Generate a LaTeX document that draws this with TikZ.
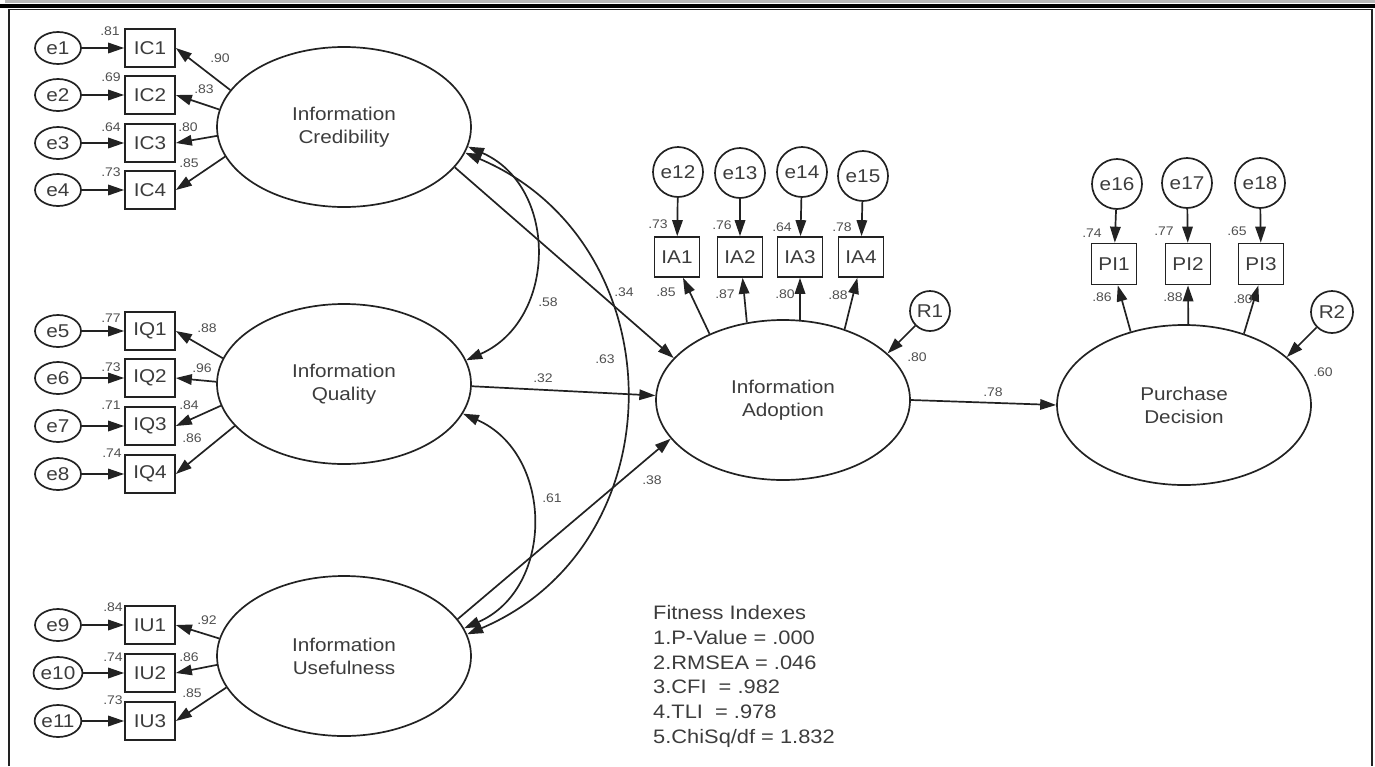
\documentclass[tikz,border=0pt]{standalone}
\usepackage{fontspec}
\setmainfont{Liberation Sans}[FakeStretch=1.12]
\usetikzlibrary{arrows.meta,shapes.geometric}
\definecolor{ink}{HTML}{222222}
\definecolor{txt}{HTML}{3C3C3C}
\definecolor{lbc}{HTML}{505050}
\begin{document}
\begin{tikzpicture}[x=1pt,y=-1pt,
  every node/.style={text=txt},
  lat/.style={draw=ink, line width=1.7pt, ellipse, minimum width=254pt, minimum height=160pt, inner sep=0pt, align=center, font=\fontsize{18.5}{23}\selectfont},
  ind/.style={draw=ink, line width=1.7pt, rectangle, minimum width=50pt, minimum height=38pt, inner sep=0pt, font=\fontsize{18.5}{20}\selectfont},
  indb/.style={ind, minimum width=45pt, minimum height=40pt},
  err/.style={draw=ink, line width=1.7pt, ellipse, minimum width=46pt, minimum height=32pt, inner sep=0pt, font=\fontsize{18.5}{20}\selectfont},
  errc/.style={draw=ink, line width=1.7pt, circle, minimum size=50pt, inner sep=0pt, font=\fontsize{18.5}{20}\selectfont},
  res/.style={errc, minimum size=40pt},
  arr/.style={draw=ink, line width=1.7pt, -{Triangle[length=16pt,width=10.5pt]}},
  cov/.style={draw=ink, line width=1.7pt, {Triangle[length=16pt,width=10.5pt]}-{Triangle[length=16pt,width=10.5pt]}},
  lbl/.style={font=\fontsize{12.5}{12.5}\selectfont, inner sep=0pt, text=lbc},
]
\useasboundingbox (0,0) rectangle (1375,766);
% frame
\fill[gray!55] (5,0) rectangle (1375,3);
\fill[black] (0,4) rectangle (1375,7.5);
\draw[ink, line width=1.2pt] (9,766) -- (9,9.5) -- (1372,9.5) -- (1372,766);

% latent variables
\node[lat] (IC) at (344,127) {Information\\Credibility};
\node[lat] (IQ) at (344,384) {Information\\Quality};
\node[lat] (IU) at (344,656) {Information\\Usefulness};
\node[lat] (IA) at (783,400) {Information\\Adoption};
\node[lat] (PD) at (1184,405) {Purchase\\Decision};

% left indicators
\foreach \n/\t/\y in {ic1/IC1/48, ic2/IC2/95, ic3/IC3/143, ic4/IC4/190,
                      iq1/IQ1/331, iq2/IQ2/378, iq3/IQ3/426, iq4/IQ4/474,
                      iu1/IU1/625, iu2/IU2/673, iu3/IU3/721}
  \node[ind] (\n) at (150,\y) {\t};
\foreach \n/\t/\y in {e1/e1/48, e2/e2/95, e3/e3/143, e4/e4/190,
                      e5/e5/331, e6/e6/378, e7/e7/426, e8/e8/474,
                      e9/e9/625, e10/e10/673, e11/e11/721}
  \node[err] (\n) at (58,\y) {\t};
\foreach \a/\b in {e1/ic1, e2/ic2, e3/ic3, e4/ic4, e5/iq1, e6/iq2, e7/iq3, e8/iq4, e9/iu1, e10/iu2, e11/iu3}
  \draw[arr] (\a) -- (\b);

\draw[arr] (IC.162) -- (ic1.east);
\draw[arr] (IC.172) -- (ic2.east);
\draw[arr] (IC.184) -- (ic3.east);
\draw[arr] (IC.194.5) -- (ic4.east);
\draw[arr] (IQ.168) -- (iq1.east);
\draw[arr] (IQ.179) -- (iq2.east);
\draw[arr] (IQ.190.7) -- (iq3.east);
\draw[arr] (IQ.201) -- (iq4.east);
\draw[arr] (IU.172.5) -- (iu1.east);
\draw[arr] (IU.184.6) -- (iu2.east);
\draw[arr] (IU.195) -- (iu3.east);

% adoption indicators
\node[indb] (ia1) at (677,257) {IA1};
\node[indb] (ia2) at (740,257) {IA2};
\node[indb] (ia3) at (800,257) {IA3};
\node[indb] (ia4) at (861,257) {IA4};
\node[errc] (e12) at (678,172) {e12};
\node[errc] (e13) at (740,173) {e13};
\node[errc] (e14) at (802,172) {e14};
\node[errc] (e15) at (863,176) {e15};
\draw[arr] (e12) -- (ia1);
\draw[arr] (e13) -- (ia2);
\draw[arr] (e14) -- (ia3);
\draw[arr] (e15) -- (ia4);
\draw[arr] (IA.138.6) -- (ia1.-74);
\draw[arr] (IA.115) -- (ia2.-83);
\draw[arr] (IA.78.5) -- (ia3.-90);
\draw[arr] (IA.49) -- (ia4.-100);
\node[res] (R1) at (930,311) {R1};
\draw[arr] (R1) -- (IA.24);

% purchase indicators
\node[indb, minimum height=41pt] (pi1) at (1114,264) {PI1};
\node[indb, minimum height=41pt] (pi2) at (1188,264) {PI2};
\node[indb, minimum height=41pt] (pi3) at (1261,264) {PI3};
\node[errc] (e16) at (1117,184) {e16};
\node[errc] (e17) at (1187,183) {e17};
\node[errc] (e18) at (1260,183) {e18};
\draw[arr] (e16) -- (pi1);
\draw[arr] (e17) -- (pi2);
\draw[arr] (e18) -- (pi3);
\draw[arr] (PD.126.5) -- (pi1.-80);
\draw[arr] (PD.87) -- (pi2.-90);
\draw[arr] (PD.50.7) -- (pi3.-97);
\node[res, minimum size=42pt] (R2) at (1332,312) {R2};
\draw[arr] (R2) -- (PD.25.4);

% structural paths
\draw[arr] (IC.-20) -- (IA.159);
\draw[arr] (IQ.-1.8) -- (IA.178.7);
\draw[arr] (IU.18.6) -- (IA.199.5);
\draw[arr] (IA.east) -- (PD.west);

% covariances
\draw[cov] (IC.-9) .. controls +(91,40) and +(91,-40) .. (IQ.11);
\draw[cov] (IQ.-14) .. controls +(91,40) and +(91,-40) .. (IU.13);
\draw[cov] (IC.-12) .. controls +(212,90) and +(212,-90) .. (IU.10);

% loading labels
\node[lbl] (l1) at (110,31) {.81};
\node[lbl] (l2) at (220,58) {.90};
\node[lbl] (l3) at (111,77) {.69};
\node[lbl] (l4) at (204,89) {.83};
\node[lbl] (l5) at (111,127) {.64};
\node[lbl] (l6) at (188,127) {.80};
\node[lbl] (l7) at (111,172) {.73};
\node[lbl] (l8) at (189,163) {.85};
\node[lbl] (l9) at (111,318) {.77};
\node[lbl] (l10) at (207,328) {.88};
\node[lbl] (l11) at (111,367) {.73};
\node[lbl] (l12) at (202,368) {.96};
\node[lbl] (l13) at (111,405) {.71};
\node[lbl] (l14) at (189,405) {.84};
\node[lbl] (l15) at (112,453) {.74};
\node[lbl] (l16) at (192,438) {.86};
\node[lbl] (l17) at (113,607) {.84};
\node[lbl] (l18) at (207,620) {.92};
\node[lbl] (l19) at (113,657) {.74};
\node[lbl] (l20) at (189,657) {.86};
\node[lbl] (l21) at (113,700) {.73};
\node[lbl] (l22) at (192,693) {.85};
\node[lbl] (l23) at (658,224) {.73};
\node[lbl] (l24) at (722,225) {.76};
\node[lbl] (l25) at (782,227) {.64};
\node[lbl] (l26) at (842,227) {.78};
\node[lbl] (l27) at (666,292) {.85};
\node[lbl] (l28) at (725,294) {.87};
\node[lbl] (l29) at (785,294) {.80};
\node[lbl] (l30) at (838,295) {.88};
\node[lbl] (l31) at (917,357) {.80};
\node[lbl] (l32) at (1092,233) {.74};
\node[lbl] (l33) at (1164,231) {.77};
\node[lbl] (l34) at (1237,231) {.65};
\node[lbl] (l35) at (1102,297) {.86};
\node[lbl] (l36) at (1173,297) {.88};
\node[lbl] (l37) at (1243,299) {.80};
\node[lbl] (l38) at (1323,372) {.60};
\node[lbl] (l39) at (548,302) {.58};
\node[lbl] (l40) at (624,292) {.34};
\node[lbl] (l41) at (605,359) {.63};
\node[lbl] (l42) at (543,378) {.32};
\node[lbl] (l43) at (552,498) {.61};
\node[lbl] (l44) at (652,480) {.38};
\node[lbl] (l45) at (993,392) {.78};

% fit indices
\node[anchor=north west, inner sep=0pt, align=left, font=\fontsize{19.5}{24.7}\selectfont] (fit) at (653,605.5)
  {Fitness Indexes\\1.P-Value = .000\\2.RMSEA = .046\\3.CFI \ = .982\\4.TLI \ = .978\\5.ChiSq/df = 1.832};
\end{tikzpicture}
\end{document}
